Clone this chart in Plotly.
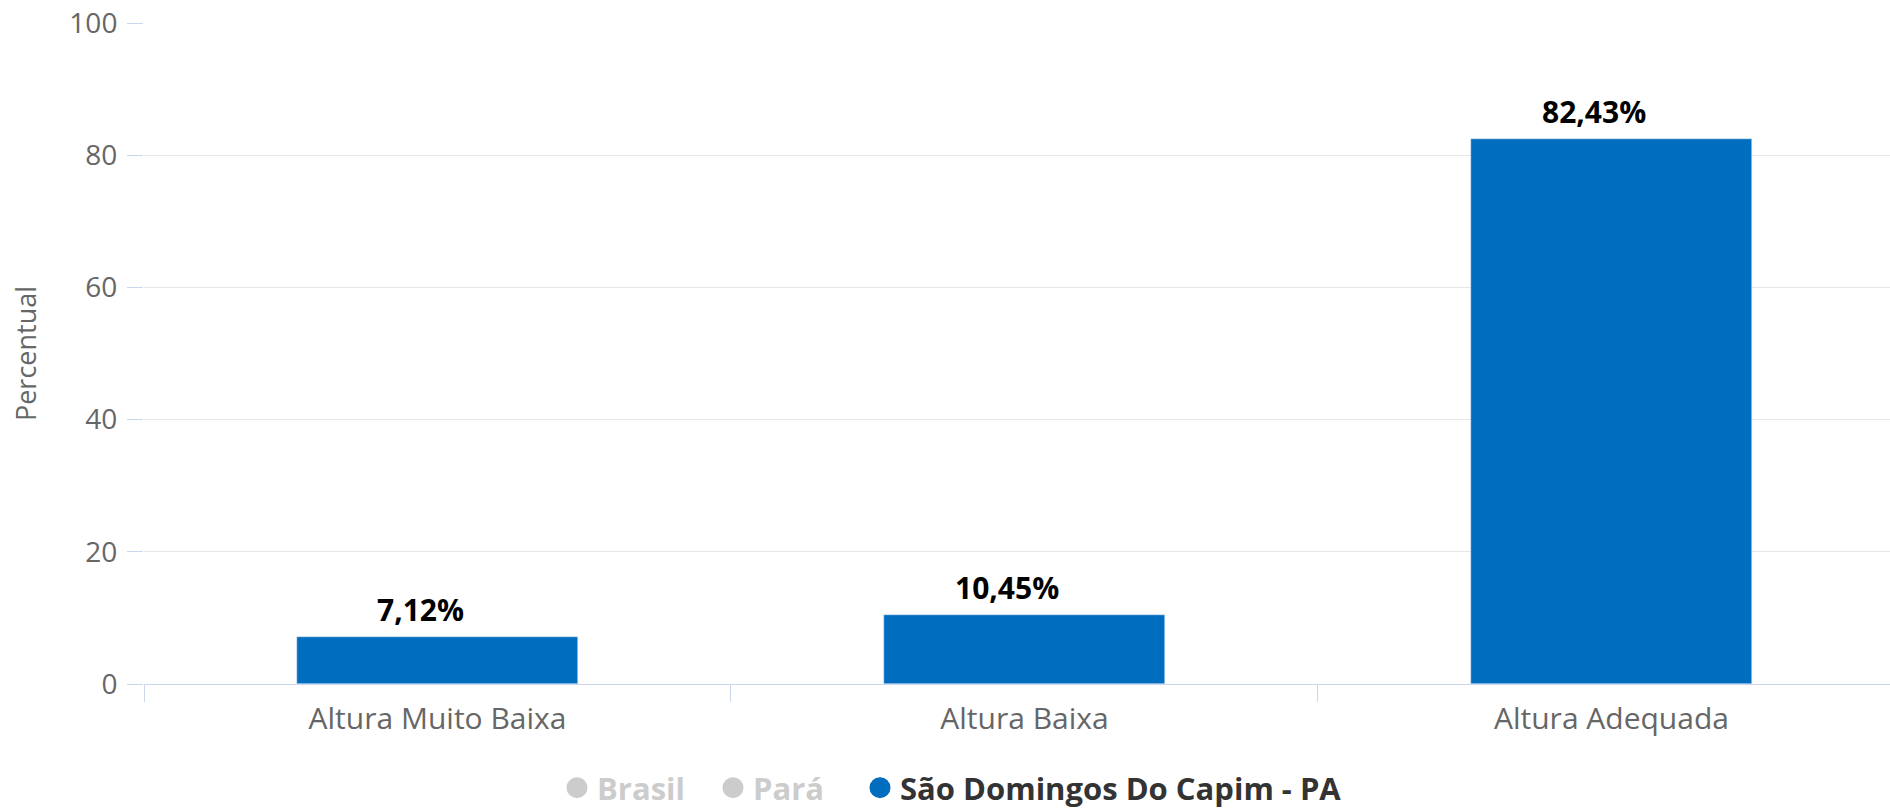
import plotly.graph_objects as go

categories = ["Altura Muito Baixa", "Altura Baixa", "Altura Adequada"]
values = [7.12, 10.45, 82.43]
series_name = "São Domingos Do Capim - PA"
hidden_series = ["Brasil", "Pará"]
y_ticks = [0, 20, 40, 60, 80, 100]

BAR_COLOR = "#006dbf"
FONT = "Open Sans"
W, H = 1890, 808

fig = go.Figure()
fig.add_trace(go.Bar(
    x=categories, y=values, name=series_name, marker_color=BAR_COLOR,
    width=0.48, showlegend=False, hoverinfo="x+y",
))

# legend entries (circles); hidden series shown greyed out
legend_ids = ["legend2", "legend3"]
for name, lg in zip(hidden_series, legend_ids):
    fig.add_trace(go.Scatter(
        x=[None], y=[None], mode="markers", name=name, legend=lg,
        marker=dict(symbol="circle", size=16, color="#cccccc",
                    line=dict(color="#cccccc", width=5)),
    ))
fig.add_trace(go.Scatter(
    x=[None], y=[None], mode="markers", name=series_name, legend="legend",
    marker=dict(symbol="circle", size=16, color=BAR_COLOR,
                line=dict(color=BAR_COLOR, width=5)),
))

labels = [f"{v:.2f}".replace(".", ",") + "%" for v in values]
for c, v, t in zip(categories, values, labels):
    fig.add_annotation(
        x=c, y=v, text=f"<b>{t}</b>", showarrow=False, yanchor="bottom",
        yshift=5, xshift=-17, font=dict(family=FONT, size=30, color="#000000"),
    )

LEG_Y = 1 - 788 / H


def leg(x_px, color):
    return dict(
        orientation="h", xref="container", yref="container",
        x=x_px / W, xanchor="left", y=LEG_Y, yanchor="middle",
        font=dict(family=FONT, size=31, color=color, weight=700),
        bgcolor="rgba(0,0,0,0)",
    )


fig.update_layout(
    width=W, height=H,
    margin=dict(l=144, r=0, t=23, b=124, autoexpand=False),
    paper_bgcolor="white", plot_bgcolor="white",
    font=dict(family=FONT, size=27, color="#666666"),
    bargap=0,
    legend=leg(860, "#333333"),
    legend2=leg(557, "#cccccc"),
    legend3=leg(713, "#cccccc"),
    showlegend=True,
)

fig.update_xaxes(
    type="category", range=[-0.5, 2.4745], automargin=False,
    showline=True, linecolor="#ccd6eb", linewidth=1,
    ticks="outside", tickson="boundaries", ticklen=17, tickcolor="#ccd6eb",
    ticklabelstandoff=8, showgrid=False, zeroline=False,
    tickfont=dict(family=FONT, size=30, color="#666666"),
)
fig.update_yaxes(
    range=[0, 100], tickvals=y_ticks, automargin=False,
    showgrid=True, gridcolor="#e6e6e6", gridwidth=1,
    ticks="outside", ticklen=16, tickcolor="#ccd6eb",
    ticklabelstandoff=4, ticklabeloverflow="allow",
    zeroline=False, showline=False,
    tickfont=dict(family=FONT, size=28, color="#666666"),
    title=dict(text="Percentual", standoff=24,
               font=dict(family=FONT, size=27, color="#666666")),
)

fig.write_html(
    "out.html",
    config={"displayModeBar": False},
    post_script="document.body.style.margin='0';document.body.style.overflow='hidden';",
)
